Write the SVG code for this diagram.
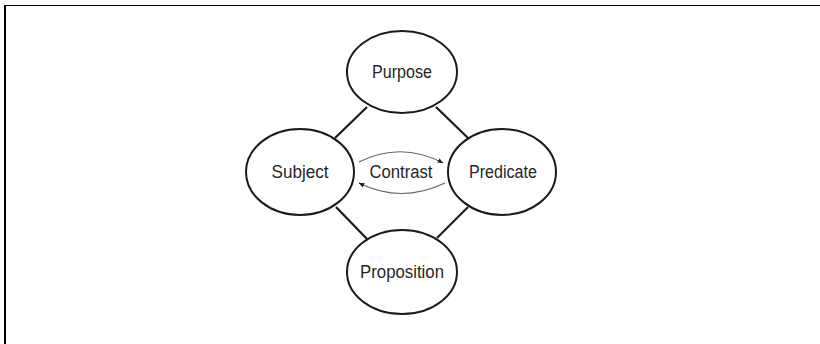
<svg xmlns="http://www.w3.org/2000/svg" width="820" height="344" viewBox="0 0 820 344">
<style>
.node ellipse{fill:#fff;stroke:#1a1a1a;stroke-width:2}
.node text,.lbl{font-family:"Liberation Sans",Arial,sans-serif;font-size:18px;fill:#262626;text-anchor:middle;dominant-baseline:central;lengthAdjust:spacingAndGlyphs}
.edge{stroke:#1a1a1a;stroke-width:2.2;fill:none}
.arc{stroke:#666;stroke-width:1.2;fill:none}
</style>
<defs>
<marker id="ah" viewBox="0 0 10 10" refX="9" refY="5" markerWidth="6" markerHeight="6" orient="auto" markerUnits="userSpaceOnUse">
<path d="M0,1 L10,5 L0,9 Z" fill="#222"/>
</marker>
</defs>
<rect width="820" height="344" fill="#fff"/>
<path d="M4,5.5 H820" stroke="#000" stroke-width="1.2"/>
<path d="M5,5 V344" stroke="#000" stroke-width="2"/>
<g id="connectors">
<line class="edge" x1="367" y1="107" x2="335" y2="138"/>
<line class="edge" x1="436" y1="107" x2="468" y2="138"/>
<line class="edge" x1="336" y1="207" x2="367" y2="239"/>
<line class="edge" x1="468" y1="207" x2="437" y2="238"/>
<path class="arc" d="M359,162 Q401,141 443,163" marker-end="url(#ah)"/>
<path class="arc" d="M445,183 Q401,204 359,183" marker-end="url(#ah)"/>
</g>
<text class="lbl" x="401" y="172" textLength="63" lengthAdjust="spacingAndGlyphs">Contrast</text>
<g id="purpose" class="node"><ellipse cx="402" cy="72" rx="55" ry="41"/><text x="402" y="72" textLength="60" lengthAdjust="spacingAndGlyphs">Purpose</text></g>
<g id="subject" class="node"><ellipse cx="300" cy="172" rx="54" ry="43"/><text x="300" y="172" textLength="57" lengthAdjust="spacingAndGlyphs">Subject</text></g>
<g id="predicate" class="node"><ellipse cx="502" cy="172" rx="54" ry="43"/><text x="503" y="172" textLength="68" lengthAdjust="spacingAndGlyphs">Predicate</text></g>
<g id="proposition" class="node"><ellipse cx="402" cy="272" rx="55" ry="42"/><text x="402" y="272" textLength="84" lengthAdjust="spacingAndGlyphs">Proposition</text></g>
</svg>
